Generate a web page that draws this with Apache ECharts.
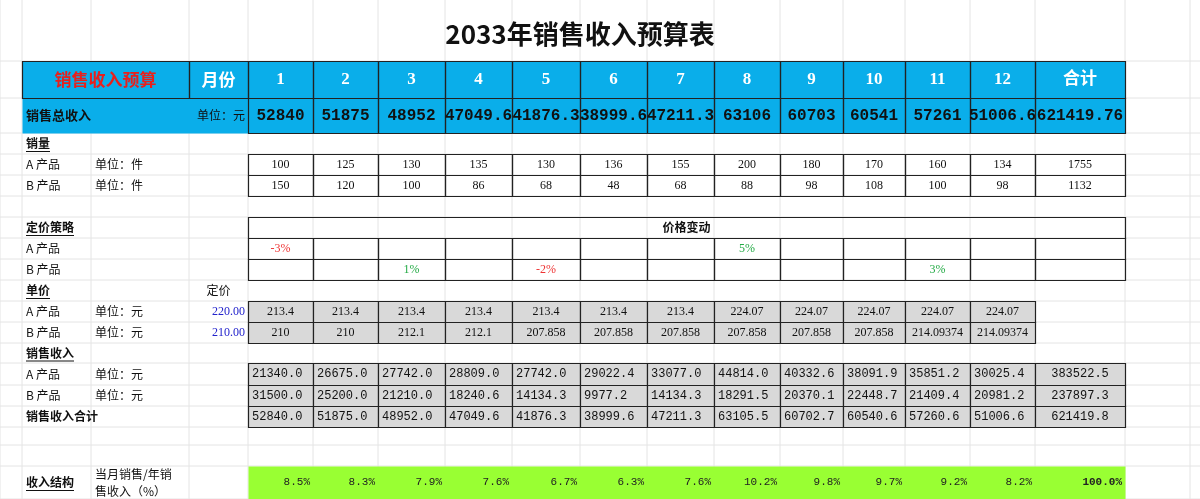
<!DOCTYPE html>
<html><head><meta charset="utf-8">
<script src="https://cdn.jsdelivr.net/npm/echarts@6/dist/echarts.min.js"></script>
<style>html,body{margin:0;padding:0;background:#fff}#c{width:1200px;height:499px}</style>
</head><body><div id="c"></div>
<script>
const title = '2033年销售收入预算表';
const months = ['1','2','3','4','5','6','7','8','9','10','11','12','合计'];
const totalRevenue = ['52840','51875','48952','47049.6','41876.3','38999.6','47211.3','63106','60703','60541','57261','51006.6','621419.76'];
const qtyA = [100,125,130,135,130,136,155,200,180,170,160,134,1755];
const qtyB = [150,120,100,86,68,48,68,88,98,108,100,98,1132];
const priceChangeA = ['-3%','','','','','','','5%','','','','',''];
const priceChangeB = ['','','1%','','-2%','','','','','','3%','',''];
const listPrice = ['220.00','210.00'];
const priceA = ['213.4','213.4','213.4','213.4','213.4','213.4','213.4','224.07','224.07','224.07','224.07','224.07'];
const priceB = ['210','210','212.1','212.1','207.858','207.858','207.858','207.858','207.858','207.858','214.09374','214.09374'];
const revA = ['21340.0','26675.0','27742.0','28809.0','27742.0','29022.4','33077.0','44814.0','40332.6','38091.9','35851.2','30025.4','383522.5'];
const revB = ['31500.0','25200.0','21210.0','18240.6','14134.3','9977.2','14134.3','18291.5','20370.1','22448.7','21409.4','20981.2','237897.3'];
const revTotal = ['52840.0','51875.0','48952.0','47049.6','41876.3','38999.6','47211.3','63105.5','60702.7','60540.6','57260.6','51006.6','621419.8'];
const share = ['8.5%','8.3%','7.9%','7.6%','6.7%','6.3%','7.6%','10.2%','9.8%','9.7%','9.2%','8.2%','100.0%'];

// layout (sheet grid edges in pixel-space of the value axes)
const X = [22,91,189,248,313,378,445,512,580,647,714,780,843,905,970,1035,1125];
const Y = [61,98,133,154,175,196,217,238,259,280,301,322,343,363,385,406,427,445,466,499];
const SERIF = '"Liberation Serif","Noto Sans CJK SC",serif';
const MONO = '"Liberation Mono","DejaVu Sans Mono","Noto Sans CJK SC",monospace';
const CJK = '"Noto Sans CJK SC",sans-serif';
const BLUE = '#0aaeea', GRAY = '#d9d9d9', GREEN = '#99ff33', LINE = '#222';

const cells = [];
function cell(c0,c1,r0,r1,text,st){cells.push(Object.assign({c0,c1,r0,r1,text:String(text)},st||{}));}
// header rows
cell(0,16,0,2,'',{fill:BLUE});
cell(0,2,0,1,'销售收入预算',{stroke:LINE,color:'#e8201c',font:CJK,size:17,bold:true});
cell(2,3,0,1,'月份',{stroke:LINE,color:'#fff',font:CJK,size:17,bold:true});
cell(0,2,1,2,'销售总收入',{color:'#111',font:CJK,size:13,bold:true,align:'left'});
cell(1,3,1,2,'单位：元',{color:'#111',font:CJK,size:12,align:'right'});
months.forEach((m,i)=>{
  const c0=3+i,c1=i===12?16:4+i;
  cell(c0,c1,0,1,m,{stroke:LINE,color:'#fff',font:SERIF,size:17,bold:true});
  cell(c0,c1,1,2,totalRevenue[i],{stroke:LINE,color:'#111',font:MONO,size:16,bold:true});
});
// left labels
const lab=(r,t,st)=>cell(0,2,r,r+1,t,Object.assign({color:'#111',font:CJK,size:12,align:'left'},st||{}));
lab(2,'销量',{bold:true,underline:true});
lab(6,'定价策略',{bold:true,underline:true});
lab(9,'单价',{bold:true,underline:true});
lab(12,'销售收入',{bold:true,underline:true});
lab(15,'销售收入合计',{bold:true});
lab(18,'收入结构',{bold:true,underline:true});
[[3,'A 产品','单位：件'],[4,'B 产品','单位：件'],[7,'A 产品',''],[8,'B 产品',''],[10,'A 产品','单位：元'],[11,'B 产品','单位：元'],[13,'A 产品','单位：元'],[14,'B 产品','单位：元']].forEach(([r,a,u])=>{
  cell(0,1,r,r+1,a,{color:'#111',font:CJK,size:12,align:'left'});
  if(u) cell(1,2,r,r+1,u,{color:'#111',font:CJK,size:12,align:'left'});
});
cell(1,2,18,19,'当月销售/年销\n售收入（%）',{color:'#111',font:CJK,size:12,align:'left'});
cell(2,3,9,10,'定价',{color:'#111',font:CJK,size:12});
cell(2,3,10,11,listPrice[0],{color:'#2222cc',font:SERIF,size:12,align:'right'});
cell(2,3,11,12,listPrice[1],{color:'#2222cc',font:SERIF,size:12,align:'right'});
// quantities
months.forEach((m,i)=>{
  const c0=3+i,c1=i===12?16:4+i;
  cell(c0,c1,3,4,qtyA[i],{stroke:LINE,font:SERIF,size:12});
  cell(c0,c1,4,5,qtyB[i],{stroke:LINE,font:SERIF,size:12});
});
// pricing
cell(3,16,6,7,'价格变动',{stroke:LINE,font:CJK,size:12,bold:true,top:3});
const pc=t=>t.startsWith('-')?'#ee3333':'#22aa44';
months.forEach((m,i)=>{
  const c0=3+i,c1=i===12?16:4+i;
  cell(c0,c1,7,8,priceChangeA[i],{stroke:LINE,font:SERIF,size:12,color:pc(priceChangeA[i])});
  cell(c0,c1,8,9,priceChangeB[i],{stroke:LINE,font:SERIF,size:12,color:pc(priceChangeB[i])});
});
priceA.forEach((v,i)=>{
  cell(3+i,4+i,10,11,v,{stroke:LINE,fill:GRAY,font:SERIF,size:12});
  cell(3+i,4+i,11,12,priceB[i],{stroke:LINE,fill:GRAY,font:SERIF,size:12});
});
months.forEach((m,i)=>{
  const c0=3+i,c1=i===12?16:4+i;
  const st={stroke:LINE,fill:GRAY,font:MONO,size:12,align:i===12?'center':'left'};
  cell(c0,c1,13,14,revA[i],st);
  cell(c0,c1,14,15,revB[i],st);
  cell(c0,c1,15,16,revTotal[i],st);
});
cell(3,16,18,19,'',{fill:GREEN});
months.forEach((m,i)=>{
  const c0=3+i,c1=i===12?16:4+i;
  cell(c0,c1,18,19,share[i],{font:MONO,size:11,align:'right',bold:i===12,color:'#222'});
});

const gridLines=[];
[0,...X,1190].forEach(x=>gridLines.push([x,0,x,499]));
Y.forEach(y=>gridLines.push([0,y,1200,y]));

const chart=echarts.init(document.getElementById('c'),null,{renderer:'canvas'});
chart.setOption({
  animation:false,
  title:{text:title,left:575,top:16,textAlign:'center',textStyle:{fontFamily:'"Noto Sans CJK SC",serif',fontSize:26,fontWeight:'bold',color:'#111'}},
  grid:{left:0,right:0,top:0,bottom:0},
  xAxis:{type:'value',min:0,max:1200,show:false},
  yAxis:{type:'value',min:0,max:499,inverse:true,show:false},
  series:[
    {type:'custom',silent:true,data:gridLines,renderItem:(p,api)=>{
      const a=api.coord([api.value(0),api.value(1)]),b=api.coord([api.value(2),api.value(3)]);
      return {type:'line',shape:{x1:a[0],y1:a[1],x2:b[0],y2:b[1]},style:{stroke:'#e4e4e4',lineWidth:1}};
    }},
    {type:'custom',silent:true,data:cells.map((c,i)=>[X[c.c0],Y[c.r0],X[c.c1],Y[c.r1]]),renderItem:(p,api)=>{
      const c=cells[p.dataIndex];
      const a=api.coord([api.value(0),api.value(1)]),b=api.coord([api.value(2),api.value(3)]);
      const w=b[0]-a[0],h=b[1]-a[1];
      const ch=[];
      if(c.fill||c.stroke) ch.push({type:'rect',shape:{x:a[0]+0.5,y:a[1]+0.5,width:w,height:h},style:{fill:c.fill||'transparent',stroke:c.stroke||null,lineWidth:c.stroke?1.2:0}});
      if(c.text){
        const al=c.align||'center';
        const tx=al==='left'?a[0]+4:al==='right'?b[0]-3:a[0]+w/2;
        const ty=c.top!=null?a[1]+c.top+c.size/2+1:a[1]+h/2;
        ch.push({type:'text',style:{text:c.text,x:tx,y:ty,align:al,verticalAlign:'middle',fill:c.color||'#111',
          font:(c.bold?'bold ':'')+c.size+'px '+c.font,lineHeight:c.size+5}});
        if(c.underline){
          const tw=echarts.format.getTextRect?0:0;
          const len=c.text.length*c.size;
          ch.push({type:'line',shape:{x1:tx,y1:ty+c.size/2+2,x2:tx+len,y2:ty+c.size/2+2},style:{stroke:'#111',lineWidth:1}});
        }
      }
      return {type:'group',children:ch};
    }}
  ]
});
</script></body></html>
